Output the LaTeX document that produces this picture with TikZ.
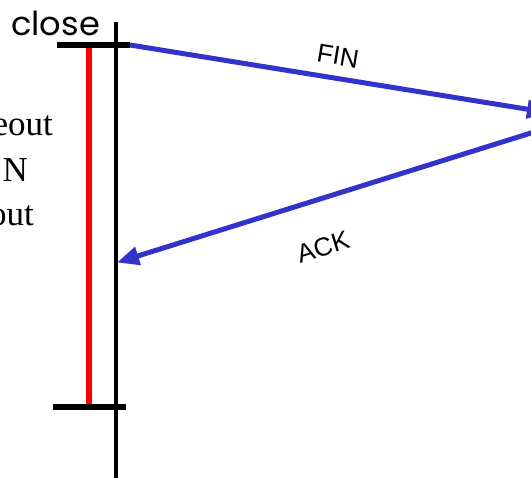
\documentclass[tikz,border=0pt]{standalone}
\usepackage{fontspec}
\setmainfont{Liberation Serif}
\newfontfamily\armfont{Liberation Sans}
\newfontfamily\comicfont{Poppins}
\usetikzlibrary{arrows.meta}
\definecolor{msgblue}{RGB}{51,51,204}
\tikzset{
  lifeline/.style={line width=3.5pt, black},
  bar/.style={line width=6pt, black},
  timer/.style={line width=6pt, red},
  msg/.style={line width=5pt, msgblue, -{Triangle[length=22pt,width=18pt]}},
  msglabel/.style={font=\armfont\fontsize{26}{30}\selectfont, inner sep=0pt},
  sidetext/.style={font=\fontsize{35}{42}\selectfont, inner sep=0pt, anchor=base east},
}
\begin{document}
\begin{tikzpicture}[x=1pt,y=-1pt]
\useasboundingbox (0,0) rectangle (531,478);
\clip (0,0) rectangle (531,478);
% coordinates
\coordinate (lt) at (116,22);
\coordinate (lb) at (116,480);
\coordinate (b1l) at (57,45);
\coordinate (b1r) at (130,45);
\coordinate (b2l) at (53,407);
\coordinate (b2r) at (126,407);
\coordinate (rt) at (89,48);
\coordinate (rb) at (89,405);
\coordinate (finend) at (549,112.7);
\coordinate (ackstart) at (545,128.6);
\coordinate (ackend) at (117,262.5);
% lines
\draw[lifeline] (lt) -- (lb);
\draw[timer] (rt) -- (rb);
\draw[bar] (b1l) -- (b1r);
\draw[bar] (b2l) -- (b2r);
\draw[msg] (b1r) -- (finend);
\draw[msg] (ackstart) -- (ackend);
% labels
\node[inner sep=0pt, anchor=base west, font=\comicfont\fontsize{33}{36}\selectfont, xscale=1.02] (close) at (11,36) {close};
\node[msglabel, rotate=-9.5] (fin) at (338,56) {FIN};
\node[msglabel, rotate=17] (ack) at (323,247) {ACK};
\node[sidetext] (t1) at (53,136) {eout};
\node[sidetext] (t2) at (28,182) {N};
\node[sidetext] (t3) at (34,226) {out};
\end{tikzpicture}
\end{document}
